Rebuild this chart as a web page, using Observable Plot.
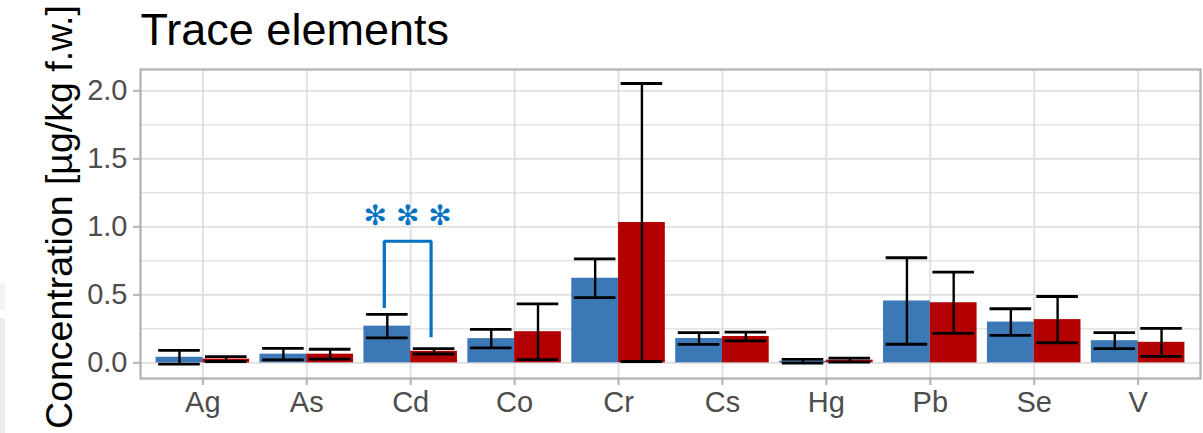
<!DOCTYPE html>
<html>
<head>
<meta charset="utf-8">
<script src="https://cdn.jsdelivr.net/npm/d3@7"></script>
<script src="https://cdn.jsdelivr.net/npm/@observablehq/plot@0.6"></script>
<style>
  body { margin: 0; background: #fff; }
  #wrap { position: relative; width: 1203px; height: 433px; overflow: hidden; }
  #wrap svg { position: absolute; left: 0; top: 0; }
  .edge { position: absolute; left: 0; width: 5px; }
</style>
</head>
<body>
<div id="wrap">
  <div class="edge" style="top:283px;height:27px;background:#f3f3f3"></div>
  <div class="edge" style="top:318px;height:115px;background:#ebebeb"></div>
</div>
<script>
// Trace element concentrations (mean ± SD), two groups per element
const elements = ["Ag", "As", "Cd", "Co", "Cr", "Cs", "Hg", "Pb", "Se", "V"];
const groups = ["group1", "group2"];
const mean1 = [0.041, 0.064, 0.270, 0.178, 0.622, 0.179, 0.012, 0.455, 0.300, 0.163];
const sd1   = [0.051, 0.042, 0.086, 0.068, 0.143, 0.043, 0.014, 0.318, 0.098, 0.059];
const mean2 = [0.028, 0.064, 0.085, 0.229, 1.032, 0.194, 0.020, 0.442, 0.318, 0.151];
const sd2   = [0.018, 0.036, 0.020, 0.205, 1.022, 0.032, 0.015, 0.225, 0.170, 0.103];

// y-axis ticks
const yMajor = [0, 0.5, 1.0, 1.5, 2.0];
const yMinor = [0.25, 0.75, 1.25, 1.75];

// significance annotation (Cd)
const sigElement = "Cd";
const sigLegLow = [0.404, 0.188];   // bottom of left / right leg
const sigTop = 0.894;
const sigLabelY = 1.083;
const sigLabel = "✻ ✻ ✻";

const title = "Trace elements";
const yTitle = "Concentration [µg/kg f.w.]";

const colors = ["#3b78b5", "#b20000"];
const sigColor = "#0072c4";

// dodge layout: each element occupies 0.9 of its slot, split between the two groups
const dodge = 0.45;
const capHalf = 0.2;
const means = [mean1, mean2];
const sds = [sd1, sd2];
const rows = elements.flatMap((el, i) => groups.map((g, k) => ({
  element: el,
  group: g,
  mean: means[k][i],
  sd: sds[k][i],
  x1: i - dodge + k * dodge,
  x2: i + k * dodge,
  xc: i - dodge / 2 + k * dodge
})));

const si = elements.indexOf(sigElement);
const bracket = [
  {x: si - dodge / 2, y: sigLegLow[0]},
  {x: si - dodge / 2, y: sigTop},
  {x: si + dodge / 2, y: sigTop},
  {x: si + dodge / 2, y: sigLegLow[1]}
];

const font = "'Liberation Sans', Arial, Helvetica, sans-serif";

const chart = Plot.plot({
  width: 1203,
  height: 433,
  marginLeft: 140,
  marginRight: 3,
  marginTop: 69,
  marginBottom: 55,
  style: {fontFamily: font, background: "transparent", overflow: "visible"},
  x: {type: "linear", domain: [-0.6, elements.length - 0.4], axis: null},
  y: {domain: [-0.115, 2.157], axis: null},
  color: {type: "ordinal", domain: groups, range: colors},
  marks: [
    // panel grid
    Plot.gridY(yMinor, {stroke: "#dedede", strokeOpacity: 1, strokeWidth: 1.1}),
    Plot.gridY(yMajor, {stroke: "#dedede", strokeOpacity: 1, strokeWidth: 1.8}),
    Plot.gridX(d3.range(elements.length), {stroke: "#dedede", strokeOpacity: 1, strokeWidth: 1.8}),
    // bars
    Plot.rect(rows, {x1: "x1", x2: "x2", y1: 0, y2: "mean", fill: "group"}),
    // error bars
    Plot.ruleX(rows, {x: "xc", y1: d => d.mean - d.sd, y2: d => d.mean + d.sd, stroke: "black", strokeWidth: 2.4}),
    Plot.ruleY(rows, {y: d => d.mean + d.sd, x1: d => d.xc - capHalf, x2: d => d.xc + capHalf, stroke: "black", strokeWidth: 2.8}),
    Plot.ruleY(rows, {y: d => d.mean - d.sd, x1: d => d.xc - capHalf, x2: d => d.xc + capHalf, stroke: "black", strokeWidth: 2.8}),
    // significance bracket and stars
    Plot.line(bracket, {x: "x", y: "y", stroke: sigColor, strokeWidth: 3.2, strokeLinejoin: "miter", strokeLinecap: "butt", dx: -3}),
    Plot.text([sigLabel], {x: () => si, y: () => sigLabelY, text: d => d, fill: sigColor, fontSize: 28, fontFamily: "'DejaVu Sans', sans-serif", dx: -3}),
    // panel border
    Plot.frame({stroke: "#b3b3b3", strokeWidth: 2.3}),
    // axes
    Plot.axisX(d3.range(elements.length), {
      tickFormat: i => elements[i], tickSize: 7, tickPadding: 6, fontSize: 29,
      fill: "#4d4d4d", stroke: "#b3b3b3", strokeWidth: 2, label: null
    }),
    Plot.axisY(yMajor, {
      tickFormat: d3.format(".1f"), tickSize: 7, tickPadding: 6, fontSize: 29,
      fill: "#4d4d4d", stroke: "#b3b3b3", strokeWidth: 2, label: null
    }),
    // titles
    Plot.text([title], {frameAnchor: "top-left", text: d => d, textAnchor: "start", lineAnchor: "bottom", dy: -25, fontSize: 45, fill: "black"}),
    Plot.text([yTitle], {frameAnchor: "left", text: d => d, rotate: -90, textAnchor: "middle", lineAnchor: "bottom", dx: -69, dy: -7, fontSize: 37.5, fill: "black"})
  ]
});

document.getElementById("wrap").appendChild(chart);
</script>
</body>
</html>
